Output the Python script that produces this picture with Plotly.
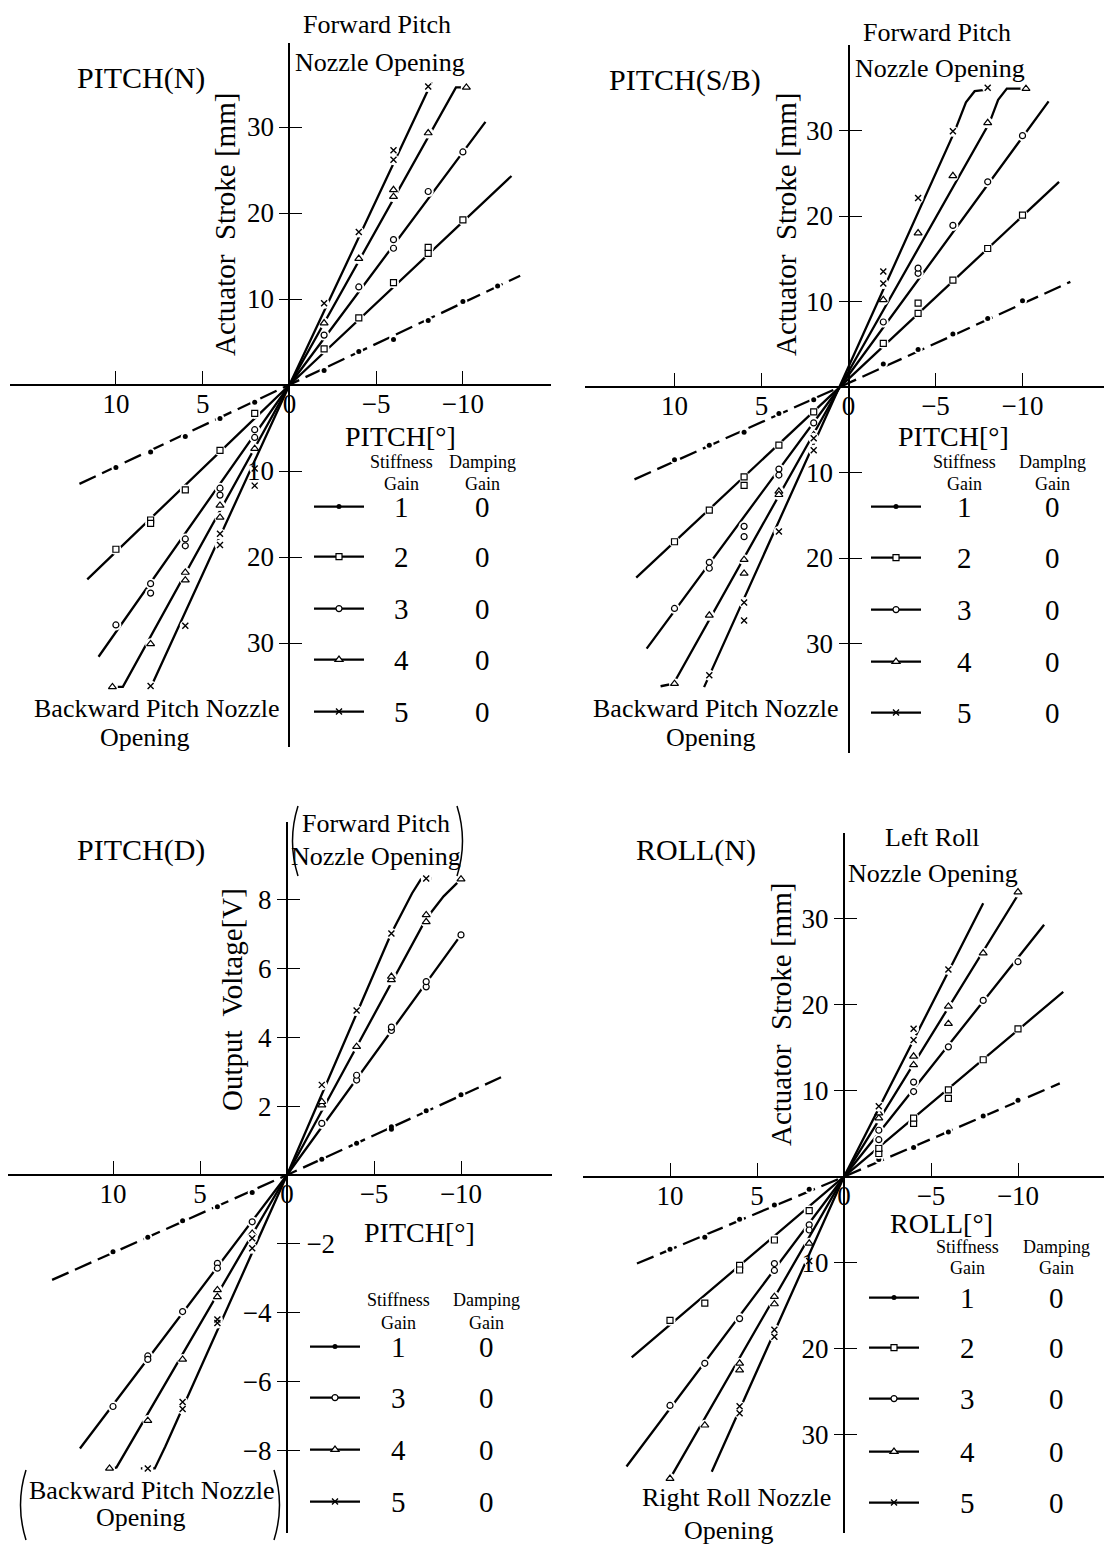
import plotly.graph_objects as go

W, H = 1104, 1546
FONT = "Liberation Serif"

# ------------------------------------------------------------------ data
# PITCH(N): pitch angle [deg] vs actuator stroke [mm]
pn_g1_x = [10, 8, 6, 4, 2, -2, -4, -6, -8, -10, -12]
pn_g1_y = [-9.6, -7.8, -6.0, -3.9, -2.0, 1.7, 3.9, 5.3, 7.5, 9.7, 11.5]
pn_g1_cx = [12.1, 0, -13.3]
pn_g1_cy = [-11.5, 0, 12.7]

pn_g2_x = [10, 8, 8, 6, 4, 2, -2, -4, -6, -8, -8, -10]
pn_g2_y = [-19.1, -15.7, -16.1, -12.2, -7.6, -3.3, 4.2, 7.8, 11.9, 15.3, 16.0, 19.2]
pn_g2_cx = [11.65, 0, -12.8]
pn_g2_cy = [-22.6, 0, 24.3]

pn_g3_x = [10, 8, 8, 6, 6, 4, 4, 2, 2, -2, -4, -6, -6, -8, -10]
pn_g3_y = [-27.9, -23.1, -24.2, -17.9, -18.7, -12.0, -12.8, -5.2, -6.1, 5.8, 11.4, 16.9, 15.9, 22.5, 27.1]
pn_g3_cx = [11.0, 0, -11.3]
pn_g3_cy = [-31.6, 0, 30.6]

pn_g4_x = [10.2, 8, 6, 6, 4, 4, 2, -2, -4, -6, -6, -8, -10.2]
pn_g4_y = [-35.1, -30.1, -21.8, -22.7, -14.0, -15.4, -7.4, 7.2, 14.7, 22.7, 21.9, 29.3, 34.6]
pn_g4_cx = [10.2, 9.6, 0, -9.6, -10.2]
pn_g4_cy = [-35.1, -35.1, 0, 34.6, 34.6]

pn_g5_x = [8, 6, 4, 4, 2, 2, -2, -4, -6, -6, -8]
pn_g5_y = [-35.0, -28.0, -17.3, -18.6, -9.7, -11.7, 9.5, 17.8, 26.2, 27.3, 34.7]
pn_g5_cx = [8.0, 0, -8.2]
pn_g5_cy = [-35.2, 0, 35.2]

# PITCH(S/B)
sb_g1_x = [10, 8, 6, 4, 2, -2, -4, -6, -8, -10]
sb_g1_y = [-8.5, -6.8, -5.3, -3.1, -1.5, 2.7, 4.4, 6.2, 8.0, 10.1]
sb_g1_cx = [12.3, 0.5, -12.75]
sb_g1_cy = [-10.8, 0, 12.3]

sb_g2_x = [10, 8, 6, 6, 4, 2, -2, -4, -4, -6, -8, -10]
sb_g2_y = [-18.1, -14.4, -10.5, -11.5, -6.8, -2.9, 5.1, 8.6, 9.8, 12.5, 16.2, 20.1]
sb_g2_cx = [12.2, 0.5, -12.1]
sb_g2_cy = [-22.3, 0, 24.0]

sb_g3_x = [10, 8, 8, 6, 6, 4, 4, 2, -2, -4, -4, -6, -8, -10]
sb_g3_y = [-25.9, -20.5, -21.2, -16.3, -17.5, -9.6, -10.3, -4.2, 7.6, 13.3, 13.9, 18.9, 24.0, 29.4]
sb_g3_cx = [11.6, 0.5, -11.5]
sb_g3_cy = [-30.6, 0, 33.4]

sb_g4_x = [10, 8, 6, 6, 4, 4, 2, -2, -4, -6, -8, -10.2]
sb_g4_y = [-34.7, -26.7, -20.2, -21.8, -12.2, -12.6, -5.6, 10.2, 18.0, 24.7, 30.9, 34.9]
sb_g4_cx = [10.8, 10.06, 0.5, -8.1, -8.6, -9.1, -10.2]
sb_g4_cy = [-35.0, -34.7, 0, 30.9, 33.6, 34.9, 34.9]

sb_g5_x = [8, 6, 6, 4, 2, 2, -2, -2, -4, -6, -8]
sb_g5_y = [-33.7, -25.2, -27.3, -16.9, -6.0, -7.4, 13.5, 12.1, 22.1, 29.9, 35.0]
sb_g5_cx = [8.3, 0.5, -6.1, -6.75, -7.25, -8.1]
sb_g5_cy = [-35.1, 0, 29.9, 33.3, 34.6, 34.8]

# PITCH(D): pitch angle [deg] vs output voltage [V]
pd_g1_x = [10, 8, 6, 4, 2, -2, -4, -6, -6, -8, -10]
pd_g1_y = [-2.23, -1.81, -1.33, -0.92, -0.51, 0.46, 0.92, 1.33, 1.40, 1.87, 2.33]
pd_g1_cx = [13.5, 0, -12.3]
pd_g1_cy = [-3.05, 0, 2.84]

pd_g3_x = [10, 8, 8, 6, 4, 4, 2, -2, -4, -4, -6, -6, -8, -8, -10]
pd_g3_y = [-6.73, -5.26, -5.36, -3.97, -2.57, -2.71, -1.36, 1.5, 2.76, 2.9, 4.2, 4.3, 5.47, 5.62, 6.98]
pd_g3_cx = [11.9, 0, -10.0]
pd_g3_cy = [-7.95, 0, 6.98]

pd_g4_x = [10.2, 8, 6, 4, 4, 2, -2, -2, -4, -6, -6, -8, -8, -10]
pd_g4_y = [-8.53, -7.14, -5.36, -3.34, -3.54, -1.7, 2.03, 2.13, 3.73, 5.67, 5.77, 7.36, 7.56, 8.6]
pd_g4_cx = [10.2, 9.8, 0, -8.0, -9.0, -10.0]
pd_g4_cy = [-8.55, -8.5, 0, 7.45, 8.1, 8.6]

pd_g5_x = [8, 6, 6, 4, 4, 2, 2, -2, -4, -6, -8]
pd_g5_y = [-8.53, -6.6, -6.8, -4.2, -4.3, -1.84, -2.13, 2.62, 4.78, 7.02, 8.62]
pd_g5_cx = [8.4, 7.6, 7.0, 0, -5.97, -7.19, -7.7, -8.3]
pd_g5_cy = [-8.53, -8.53, -7.9, 0, 7.0, 8.19, 8.6, 8.62]

# ROLL(N): roll angle [deg] vs actuator stroke [mm]
rn_g1_x = [10, 8, 6, 4, 2, -2, -4, -6, -8, -10]
rn_g1_y = [-8.45, -7.05, -4.96, -3.3, -1.47, 2.0, 3.4, 5.2, 7.05, 8.9]
rn_g1_cx = [11.9, 0, -12.4]
rn_g1_cy = [-10.1, 0, 10.85]

rn_g2_x = [10, 8, 6, 6, 4, 2, -2, -2, -4, -4, -6, -6, -8, -10]
rn_g2_y = [-16.7, -14.7, -10.3, -10.85, -7.36, -3.95, 2.7, 3.3, 6.2, 6.8, 9.1, 10.1, 13.6, 17.2]
rn_g2_cx = [12.2, 0, -12.6]
rn_g2_cy = [-21.0, 0, 21.5]

rn_g3_x = [10, 8, 6, 4, 4, 2, 2, -2, -2, -4, -4, -6, -8, -10]
rn_g3_y = [-26.6, -21.7, -16.5, -10.1, -10.9, -5.6, -6.2, 4.3, 5.4, 9.9, 11.0, 15.1, 20.5, 25.0]
rn_g3_cx = [12.5, 0, -11.5]
rn_g3_cy = [-33.7, 0, 29.3]

rn_g4_x = [10, 8, 6, 6, 4, 4, 2, -2, -2, -4, -4, -6, -6, -8, -10]
rn_g4_y = [-35.1, -28.9, -21.7, -22.5, -13.95, -14.8, -7.75, 6.8, 7.4, 13.0, 14.0, 17.8, 19.8, 26.0, 33.1]
rn_g4_cx = [10.0, 0, -10.1]
rn_g4_cy = [-35.1, 0, 33.1]

rn_g5_x = [6, 6, 4, 4, 2, -2, -4, -4, -6]
rn_g5_y = [-26.7, -27.5, -17.8, -18.6, -9.8, 8.2, 15.9, 17.2, 24.1]
rn_g5_cx = [7.6, 0, -8.0]
rn_g5_cy = [-34.3, 0, 31.8]

x_tickvals = [10, 5, 0, -5, -10]
x_ticktext = ["10", "5", "0", "\u22125", "\u221210"]
mm_tickvals = [30, 20, 10, -10, -20, -30]
mm_ticktext = ["30", "20", "10", "10", "20", "30"]
v_tickvals = [8, 6, 4, 2, -2, -4, -6, -8]
v_ticktext = ["8", "6", "4", "2", "", "\u22124", "\u22126", "\u22128"]
v_ticktext_right = ["", "", "", "", "\u22122", "", "", ""]

# ------------------------------------------------------------------ layout geometry (pixels)
panels = [
    dict(ox=289.4, oy=385, sx=17.35, sy=8.6, x0=10, x1=551, y0=43, y1=747),
    dict(ox=848.5, oy=387, sx=17.4, sy=8.55, x0=585, x1=1104, y0=45, y1=753),
    dict(ox=287, oy=1175, sx=17.4, sy=34.4, x0=8, x1=552, y0=822, y1=1533),
    dict(ox=844, oy=1176.7, sx=17.4, sy=8.6, x0=583, x1=1104, y0=833, y1=1533),
]

SYM = {
    1: dict(symbol="circle", size=5, color="black", line=dict(width=0)),
    2: dict(symbol="square", size=6, color="white", line=dict(color="black", width=1.2)),
    3: dict(symbol="circle", size=6, color="white", line=dict(color="black", width=1.2)),
    4: dict(symbol="triangle-up", size=7, color="white", line=dict(color="black", width=1.2)),
    5: dict(symbol="x-thin", size=6, color="black", line=dict(color="black", width=1.4)),
}

series = [
    (1, 1, pn_g1_x, pn_g1_y, pn_g1_cx, pn_g1_cy),
    (1, 2, pn_g2_x, pn_g2_y, pn_g2_cx, pn_g2_cy),
    (1, 3, pn_g3_x, pn_g3_y, pn_g3_cx, pn_g3_cy),
    (1, 4, pn_g4_x, pn_g4_y, pn_g4_cx, pn_g4_cy),
    (1, 5, pn_g5_x, pn_g5_y, pn_g5_cx, pn_g5_cy),
    (2, 1, sb_g1_x, sb_g1_y, sb_g1_cx, sb_g1_cy),
    (2, 2, sb_g2_x, sb_g2_y, sb_g2_cx, sb_g2_cy),
    (2, 3, sb_g3_x, sb_g3_y, sb_g3_cx, sb_g3_cy),
    (2, 4, sb_g4_x, sb_g4_y, sb_g4_cx, sb_g4_cy),
    (2, 5, sb_g5_x, sb_g5_y, sb_g5_cx, sb_g5_cy),
    (3, 1, pd_g1_x, pd_g1_y, pd_g1_cx, pd_g1_cy),
    (3, 3, pd_g3_x, pd_g3_y, pd_g3_cx, pd_g3_cy),
    (3, 4, pd_g4_x, pd_g4_y, pd_g4_cx, pd_g4_cy),
    (3, 5, pd_g5_x, pd_g5_y, pd_g5_cx, pd_g5_cy),
    (4, 1, rn_g1_x, rn_g1_y, rn_g1_cx, rn_g1_cy),
    (4, 2, rn_g2_x, rn_g2_y, rn_g2_cx, rn_g2_cy),
    (4, 3, rn_g3_x, rn_g3_y, rn_g3_cx, rn_g3_cy),
    (4, 4, rn_g4_x, rn_g4_y, rn_g4_cx, rn_g4_cy),
    (4, 5, rn_g5_x, rn_g5_y, rn_g5_cx, rn_g5_cy),
]

# legend table rows per panel
legend_rows = {
    1: dict(cx=342, num_x=401, zero_x=482, gains=[1, 2, 3, 4, 5], ys=[507, 557, 609, 660, 712]),
    2: dict(cx=899, num_x=964, zero_x=1052, gains=[1, 2, 3, 4, 5], ys=[507, 558, 610, 662, 713]),
    3: dict(cx=338, num_x=398, zero_x=486, gains=[1, 3, 4, 5], ys=[1347, 1398, 1450, 1502]),
    4: dict(cx=897, num_x=967, zero_x=1056, gains=[1, 2, 3, 4, 5], ys=[1298, 1348, 1399, 1452, 1503]),
}


def px(x):
    return x / W


def py(y):
    return 1 - y / H


fig = go.Figure()

for pnl, gain, xs, ys, cxs, cys in series:
    ax = dict(xaxis="x" if pnl == 1 else f"x{pnl}", yaxis="y" if pnl == 1 else f"y{pnl}")
    fig.add_trace(go.Scatter(x=cxs, y=cys, mode="lines",
                             line=dict(color="black", width=2.3, dash="18px,7px" if gain == 1 else "solid"),
                             showlegend=False, hoverinfo="skip", **ax))
    fig.add_trace(go.Scatter(x=xs, y=ys, mode="markers",
                             marker=dict(symbol="circle", size=11 if gain != 1 else 9, color="white"),
                             showlegend=False, hoverinfo="skip", **ax))
    fig.add_trace(go.Scatter(x=xs, y=ys, mode="markers", marker=SYM[gain],
                             showlegend=False, hoverinfo="skip", **ax))

# legend key glyphs (one legend per row of the gain table)
legends = {}
li = 0
for pnl, info in legend_rows.items():
    ax = dict(xaxis="x" if pnl == 1 else f"x{pnl}", yaxis="y" if pnl == 1 else f"y{pnl}")
    for gain, ry in zip(info["gains"], info["ys"]):
        li += 1
        lname = "legend" if li == 1 else f"legend{li}"
        fig.add_trace(go.Scatter(x=[None], y=[None], mode="lines+markers", name=" ",
                                 line=dict(color="black", width=2.3), marker=SYM[gain],
                                 legend=lname, showlegend=True, hoverinfo="skip", **ax))
        legends[lname] = dict(x=px(info["cx"] - 33), y=py(ry), xanchor="left", yanchor="middle",
                              bgcolor="rgba(0,0,0,0)", borderwidth=0, itemwidth=50,
                              font=dict(size=14, family=FONT))

# empty traces to attach the right-hand twin y axes (tick marks to the right of the axis)
for pnl in range(1, 5):
    fig.add_trace(go.Scatter(x=[], y=[], xaxis="x" if pnl == 1 else f"x{pnl}",
                             yaxis=f"y{pnl + 4}", showlegend=False, hoverinfo="skip"))

layout = dict(width=W, height=H, margin=dict(l=0, r=0, t=0, b=0, pad=0), autosize=False,
              paper_bgcolor="white", plot_bgcolor="rgba(0,0,0,0)", hovermode=False,
              font=dict(family=FONT, color="black"))

tfont = dict(size=27, family=FONT, color="black")
for i, p in enumerate(panels, start=1):
    xr = [(p["ox"] - p["x0"]) / p["sx"], -(p["x1"] - p["ox"]) / p["sx"]]
    yr = [-(p["y1"] - p["oy"]) / p["sy"], (p["oy"] - p["y0"]) / p["sy"]]
    if i == 3:
        tv, tt, ttr = v_tickvals, v_ticktext, v_ticktext_right
    else:
        tv, tt, ttr = mm_tickvals, mm_ticktext, [""] * len(mm_tickvals)
    xn = "xaxis" if i == 1 else f"xaxis{i}"
    yn = "yaxis" if i == 1 else f"yaxis{i}"
    layout[xn] = dict(domain=[px(p["x0"]), px(p["x1"])], range=xr, anchor="free", position=py(p["oy"]),
                      showgrid=False, zeroline=True, zerolinecolor="black", zerolinewidth=2,
                      showline=False, ticks="inside", ticklen=14, tickwidth=1.4, tickcolor="black",
                      tickmode="array", tickvals=x_tickvals, ticktext=x_ticktext, tickfont=tfont,
                      ticklabelstandoff=0, fixedrange=True)
    layout[yn] = dict(domain=[py(p["y1"]), py(p["y0"])], range=yr, anchor="free", position=px(p["ox"]),
                      side="left", showgrid=False, zeroline=True, zerolinecolor="black", zerolinewidth=2,
                      showline=False, ticks="outside", ticklen=10, tickwidth=1.4, tickcolor="black",
                      tickmode="array", tickvals=tv, ticktext=tt, tickfont=tfont,
                      ticklabelstandoff=0, fixedrange=True)
    layout[f"yaxis{i + 4}"] = dict(overlaying="y" if i == 1 else f"y{i}", range=yr, anchor="free",
                                   position=px(p["ox"]), side="right", showgrid=False, zeroline=False,
                                   showline=False, ticks="outside", ticklen=12, tickwidth=1.4,
                                   tickcolor="black", tickmode="array", tickvals=tv, ticktext=ttr,
                                   tickfont=tfont, ticklabelstandoff=1, fixedrange=True)

layout.update(legends)

ann = []


def text(t, x, y, size=26, angle=0):
    ann.append(dict(text=t, x=px(x), y=py(y), xref="paper", yref="paper", showarrow=False,
                    xanchor="center", yanchor="middle", textangle=angle,
                    font=dict(size=size, family=FONT, color="black")))


# panel 1
text("PITCH(N)", 141, 78, 30)
text("Forward Pitch", 377, 25)
text("Nozzle Opening", 380, 63)
text("Actuator  Stroke [mm]", 225, 225, 29, -90)
text("PITCH[\u00b0]", 400, 436, 28)
text("Backward Pitch Nozzle", 156, 708)
text("Opening", 145, 737)
# panel 2
text("PITCH(S/B)", 685, 80, 30)
text("Forward Pitch", 937, 32)
text("Nozzle Opening", 940, 68)
text("Actuator  Stroke [mm]", 786, 225, 29, -90)
text("PITCH[\u00b0]", 953, 436, 28)
text("Backward Pitch Nozzle", 715, 708)
text("Opening", 711, 738)
# panel 3
text("PITCH(D)", 141, 850, 30)
text("Forward Pitch", 376, 823)
text("Nozzle Opening", 376, 857)
text("Output  Voltage[V]", 232, 1000, 29, -90)
text("PITCH[\u00b0]", 419, 1232, 28)
text("Backward Pitch Nozzle", 151, 1490)
text("Opening", 141, 1517)
# panel 4
text("ROLL(N)", 696, 850, 30)
text("Left Roll", 932, 837)
text("Nozzle Opening", 933, 873)
text("Actuator  Stroke [mm]", 781, 1015, 29, -90)
text("ROLL[\u00b0]", 941, 1223, 28)
text("Right Roll Nozzle", 736, 1497)
text("Opening", 729, 1530)

# gain table headers and numbers
headers = {1: (462, 484, "Damping"), 2: (462, 484, "Damplng"), 3: (1300, 1323, "Damping"), 4: (1247, 1268, "Damping")}
for pnl, info in legend_rows.items():
    hy, gy, dname = headers[pnl]
    text("Stiffness", info["num_x"], hy, 18)
    text(dname, info["zero_x"], hy, 18)
    text("Gain", info["num_x"], gy, 18)
    text("Gain", info["zero_x"], gy, 18)
    for gain, ry in zip(info["gains"], info["ys"]):
        text(str(gain), info["num_x"], ry, 29)
        text("0", info["zero_x"], ry, 29)

layout["annotations"] = ann

# parentheses around the PITCH(D) nozzle labels
shapes = []
for (xl, xr_, yt, yb) in [(292, 463, 806, 876), (20, 280, 1470, 1540)]:
    ym = (yt + yb) / 2
    shapes.append(dict(type="path", xref="paper", yref="paper",
                       path=f"M {px(xl + 6)},{py(yt)} Q {px(xl - 5)},{py(ym)} {px(xl + 6)},{py(yb)}",
                       line=dict(color="black", width=1.5)))
    shapes.append(dict(type="path", xref="paper", yref="paper",
                       path=f"M {px(xr_ - 6)},{py(yt)} Q {px(xr_ + 5)},{py(ym)} {px(xr_ - 6)},{py(yb)}",
                       line=dict(color="black", width=1.5)))
layout["shapes"] = shapes

fig.update_layout(**layout)
fig.write_html("out.html")
